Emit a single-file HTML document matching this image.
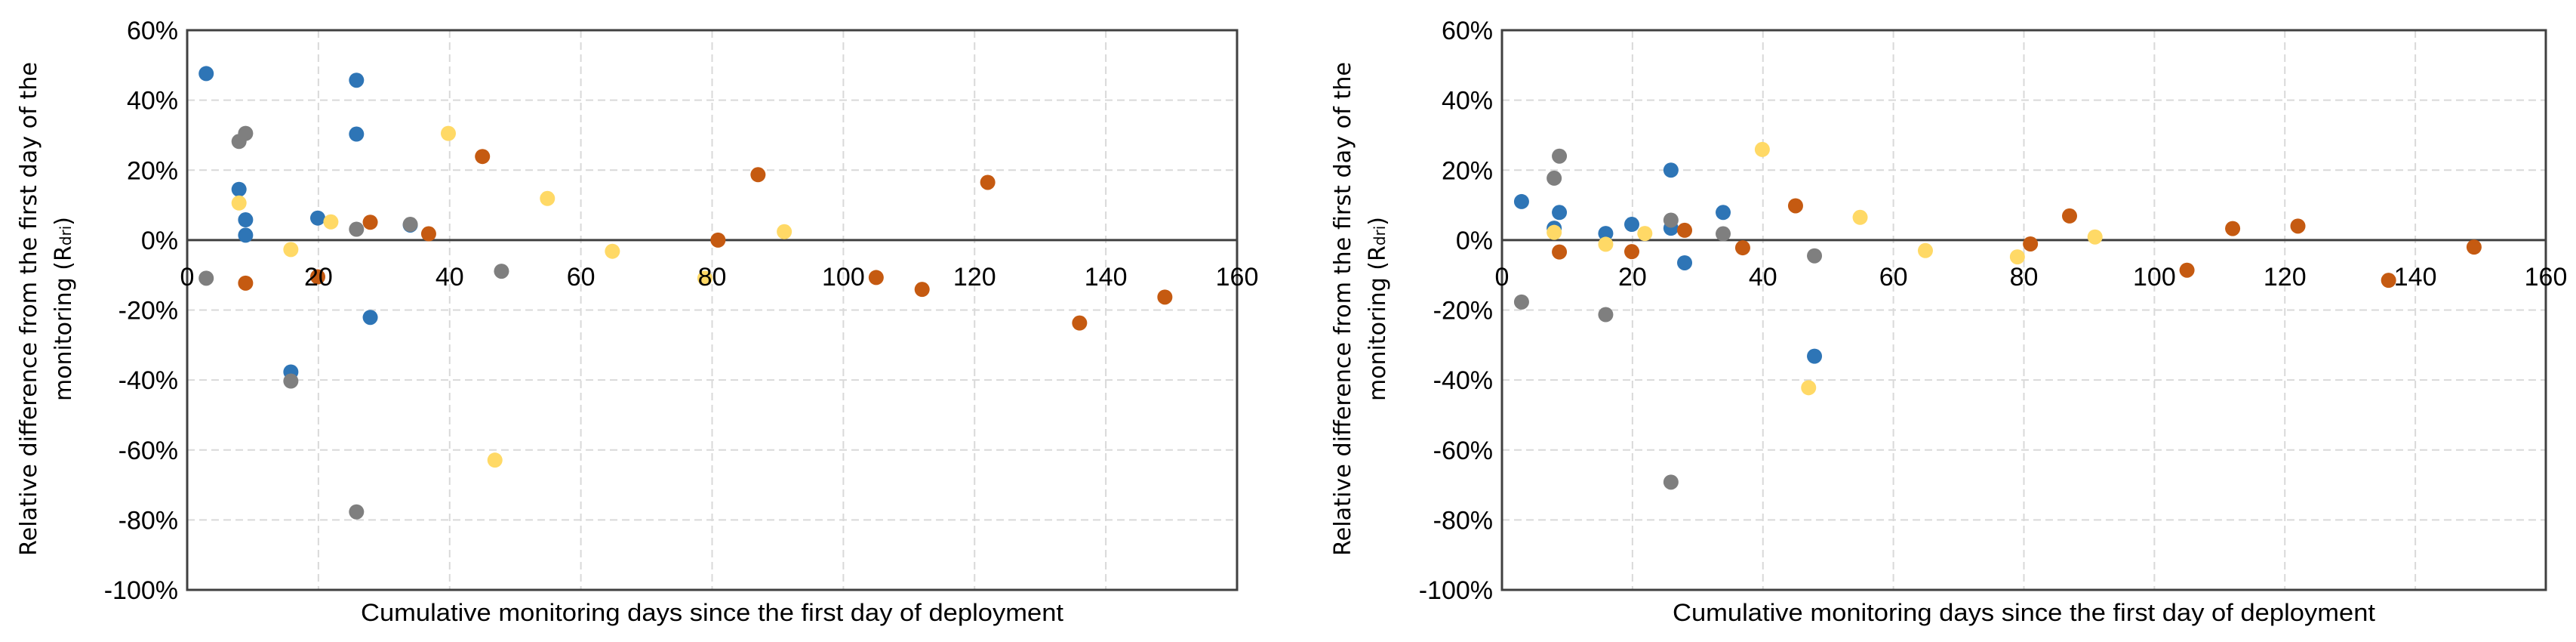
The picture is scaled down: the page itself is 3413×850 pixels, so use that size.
<!DOCTYPE html>
<html><head><meta charset="utf-8"><style>
html,body{margin:0;padding:0;background:#fff;width:3413px;height:850px;overflow:hidden}
svg{display:block}
text{font-family:"Liberation Sans Narrow","Liberation Sans",sans-serif;fill:#000}
</style></head><body>
<svg id="svg" width="3413" height="850" xmlns="http://www.w3.org/2000/svg"></svg>
<script>
const xTicks=[0,20,40,60,80,100,120,140,160];
const yTicks=[60,40,20,0,-20,-40,-60,-80,-100];
const seriesNames=["blue-series","gray-series","yellow-series","orange-series"];
const seriesColors=["#2E75B6","#7F7F7F","#FFD966","#C55A11"];
// Left chart
const L_blueX=[2.9,25.8,25.8,7.9,8.9,8.9,19.9,34,27.9,15.8];
const L_blueY=[47.6,45.7,30.3,14.5,5.8,1.4,6.3,4.3,-22.1,-37.7];
const L_grayX=[7.9,8.9,25.8,34,2.9,47.9,15.8,25.8];
const L_grayY=[28.2,30.5,3.1,4.5,-10.9,-8.9,-40.3,-77.7];
const L_yellowX=[7.9,39.8,54.9,21.9,15.8,64.8,91,78.9,46.9];
const L_yellowY=[10.6,30.5,11.9,5.2,-2.7,-3.2,2.4,-10.9,-62.9];
const L_orangeX=[8.9,27.9,36.8,45,80.9,87,105,112,122,136,149,19.9];
const L_orangeY=[-12.3,5.1,1.8,23.9,0,18.7,-10.7,-14.1,16.5,-23.7,-16.3,-10.5];
// Right chart
const R_blueX=[3,8.8,8,15.9,19.9,25.9,25.9,28,33.9,47.9];
const R_blueY=[11,7.9,3.4,1.9,4.5,20,3.4,-6.5,7.9,-33.2];
const R_grayX=[8,8.8,3,15.9,25.9,33.9,47.9,25.9];
const R_grayY=[17.7,24,-17.7,-21.3,5.7,1.8,-4.5,-69.2];
const R_yellowX=[8,15.9,21.9,39.9,54.9,64.9,79,90.9,47];
const R_yellowY=[2.2,-1.2,1.9,25.9,6.5,-3,-4.8,0.9,-42.2];
const R_orangeX=[8.8,19.9,28,36.9,45,81,87,105,112,122,135.9,149];
const R_orangeY=[-3.4,-3.3,2.8,-2.2,9.8,-1.1,6.9,-8.6,3.3,4,-11.5,-2];

const NS="http://www.w3.org/2000/svg";
const svg=document.getElementById('svg');
function mk(tag,attrs,parent){const e=document.createElementNS(NS,tag);for(const k in attrs)e.setAttribute(k,attrs[k]);(parent||svg).appendChild(e);return e;}

function chart(prefix,x0,x1,ytitleX,xs,ys){
  const y0=40,y1=781;
  const g=mk('g',{});
  
  
  const sx=v=>x0+(v-0)/160*(x1-x0);
  const sy=v=>y0+(60-v)/160*(y1-y0);
  // grid
  xTicks.forEach(t=>{if(t===0||t===160)return;
    const l=mk('line',{x1:sx(t),x2:sx(t),y1:y0,y2:y1,stroke:'#d9d9d9','stroke-width':2,'stroke-dasharray':'10,6'},g);
    
    
  });
  yTicks.forEach(t=>{if(t===60||t===-100||t===0)return;
    const l=mk('line',{x1:x0,x2:x1,y1:sy(t),y2:sy(t),stroke:'#d9d9d9','stroke-width':2,'stroke-dasharray':'10,6'},g);
    
    
  });
  const fr=mk('rect',{x:x0,y:y0,width:x1-x0,height:y1-y0,fill:'none',stroke:'#404040','stroke-width':3},g);
  
  
  const z=mk('line',{x1:x0,x2:x1,y1:sy(0),y2:sy(0),stroke:'#404040','stroke-width':3},g);
  
  
  // y tick labels
  yTicks.forEach(t=>{
    const tx=mk('text',{x:x0-12,y:sy(t)+12,'text-anchor':'end','font-size':34,transform:''},g);
    tx.textContent=t+'%';
    
    
  });
  // series
  xs.forEach((arrX,si)=>{
    const sg=mk('g',{},g);
    
    
    arrX.forEach((xv,i)=>{
      const c=mk('circle',{cx:sx(xv),cy:sy(ys[si][i]),r:10,fill:seriesColors[si]},sg);
      
      
    });
  });
  // x tick labels (drawn above points)
  xTicks.forEach(t=>{
    const tx=mk('text',{x:sx(t),y:sy(0)+60,'text-anchor':'middle','font-size':34},g);
    tx.textContent=t;
    
    
  });
  const xt=mk('text',{x:(x0+x1)/2,y:822,'text-anchor':'middle','font-size':32,textLength:931,lengthAdjust:'spacingAndGlyphs'},g);
  xt.textContent='Cumulative monitoring days since the first day of deployment';
  
  
  const yt=mk('text',{transform:`translate(${ytitleX},409) rotate(-90)`,'text-anchor':'middle','font-size':30,textLength:654,lengthAdjust:'spacingAndGlyphs',style:'font-family:"DejaVu Sans",sans-serif'},g);
  yt.textContent='Relative difference from the first day of the';
  
  
  const yt2=mk('text',{transform:`translate(${ytitleX+46},409) rotate(-90)`,'text-anchor':'middle','font-size':30,style:'font-family:"DejaVu Sans",sans-serif'},g);
  
  
  yt2.appendChild(document.createTextNode('monitoring (R'));
  const sub=mk('tspan',{'font-size':20},yt2);sub.textContent='dri';
  yt2.appendChild(document.createTextNode(')'));
}
chart('left',248,1639,48,[L_blueX,L_grayX,L_yellowX,L_orangeX],[L_blueY,L_grayY,L_yellowY,L_orangeY]);
chart('right',1990,3373,1789,[R_blueX,R_grayX,R_yellowX,R_orangeX],[R_blueY,R_grayY,R_yellowY,R_orangeY]);
</script>
</body></html>
